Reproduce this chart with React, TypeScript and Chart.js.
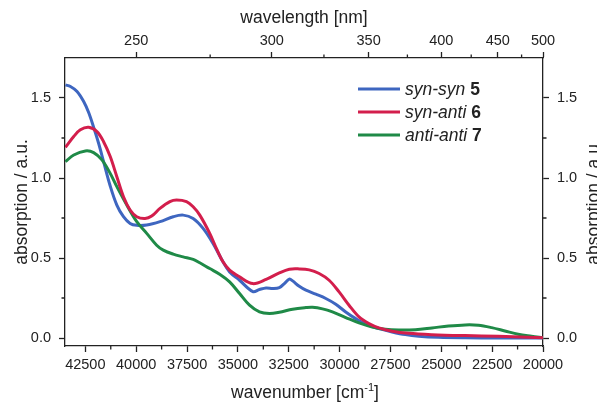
import React, { useEffect, useRef } from 'react';
import { Chart, registerables } from 'chart.js';

Chart.register(...registerables);

// ---- data (wavenumber in cm^-1, absorption in a.u.) ----
const synSynWn = [43478, 43234, 42908, 42582, 42337, 42092, 41848, 41603, 41277, 40951, 40625, 40299, 39972, 39483, 38831, 38179, 37690, 37200, 36711, 36222, 35733, 35407, 34917, 34265, 33939, 33613, 33287, 32961, 32716, 32472, 32309, 31983, 31656, 31167, 30678, 30188, 29699, 29210, 28721, 28069, 27416, 26764, 26112, 25133, 23829, 22198, 20000];
const synSynAbs = [1.582, 1.572, 1.541, 1.478, 1.409, 1.317, 1.217, 1.102, 0.950, 0.831, 0.758, 0.716, 0.704, 0.706, 0.727, 0.758, 0.768, 0.747, 0.685, 0.591, 0.476, 0.413, 0.361, 0.290, 0.303, 0.313, 0.310, 0.315, 0.340, 0.368, 0.357, 0.323, 0.299, 0.274, 0.247, 0.211, 0.163, 0.121, 0.086, 0.059, 0.038, 0.021, 0.011, 0.004, 0.001, 0.0, 0.0];

const synAntiWn = [43478, 43071, 42745, 42337, 41929, 41603, 41277, 40951, 40625, 40299, 39972, 39565, 39238, 38831, 38342, 38016, 37527, 37200, 36874, 36385, 36059, 35733, 35407, 34917, 34265, 33613, 32961, 32472, 31983, 31493, 31004, 30515, 30025, 29536, 29047, 28558, 28069, 27416, 26601, 25459, 23829, 22198, 20000];
const synAntiAbs = [1.192, 1.259, 1.301, 1.317, 1.290, 1.227, 1.134, 1.008, 0.883, 0.800, 0.758, 0.747, 0.762, 0.810, 0.852, 0.862, 0.852, 0.820, 0.768, 0.654, 0.560, 0.476, 0.424, 0.382, 0.340, 0.366, 0.407, 0.430, 0.432, 0.426, 0.403, 0.361, 0.288, 0.205, 0.132, 0.090, 0.063, 0.042, 0.029, 0.021, 0.015, 0.011, 0.002];

const antiAntiWn = [43478, 43071, 42500, 42092, 41685, 41277, 40951, 40462, 39972, 39483, 38994, 38668, 38179, 37690, 37200, 36874, 36385, 35896, 35407, 34917, 34428, 33939, 33450, 32961, 32309, 31656, 31330, 30841, 30351, 29699, 29047, 28395, 27742, 27090, 26275, 25459, 24644, 23829, 23177, 22524, 21872, 21220, 20567, 20000];
const antiAntiAbs = [1.102, 1.144, 1.169, 1.159, 1.113, 1.029, 0.946, 0.831, 0.727, 0.654, 0.580, 0.549, 0.524, 0.507, 0.491, 0.470, 0.434, 0.399, 0.351, 0.278, 0.205, 0.163, 0.153, 0.161, 0.180, 0.190, 0.192, 0.182, 0.163, 0.128, 0.094, 0.069, 0.054, 0.050, 0.052, 0.063, 0.075, 0.082, 0.080, 0.065, 0.044, 0.023, 0.011, 0.002];

const seriesItalic = ['syn-syn', 'syn-anti', 'anti-anti'];
const seriesBold = ['5', '6', '7'];
const seriesColors = ['#3e66c0', '#d31e4c', '#1f8a47'];

const bottomTicks = [42500, 40000, 37500, 35000, 32500, 30000, 27500, 25000, 22500, 20000];
const bottomMinor = [41250, 38750, 36250, 33750, 31250, 28750, 26250, 23750, 21250];
const topTicksNm = [250, 300, 350, 400, 450, 500];
const topMinorNm = [275, 325, 375, 425, 475];
const yTicks = [0, 0.5, 1.0, 1.5];
const yMinor = [0.25, 0.75, 1.25];

const titleTop = 'wavelength [nm]';
const titleBottomMain = 'wavenumber [cm';
const titleBottomSup = '-1';
const titleBottomEnd = ']';
const titleY = 'absorption / a.u.';

const FONT = '"Liberation Sans", Arial, Helvetica, sans-serif';
const INK = '#222222';

const decorPlugin = {
  id: 'decor',
  afterDraw(chart: any) {
    const ctx: CanvasRenderingContext2D = chart.ctx;
    const { left, right, top, bottom } = chart.chartArea;
    const sx = chart.scales.x;
    const sy = chart.scales.y;
    ctx.save();
    // minor ticks
    ctx.strokeStyle = INK;
    ctx.lineWidth = 1.3;
    ctx.beginPath();
    bottomMinor.forEach((v) => {
      const p = sx.getPixelForValue(v);
      ctx.moveTo(p, bottom);
      ctx.lineTo(p, bottom + 3.5);
    });
    topMinorNm.forEach((nm) => {
      const p = sx.getPixelForValue(1e7 / nm);
      ctx.moveTo(p, top);
      ctx.lineTo(p, top - 3.5);
    });
    yMinor.forEach((v) => {
      const p = sy.getPixelForValue(v);
      ctx.moveTo(left, p);
      ctx.lineTo(left - 3.5, p);
      ctx.moveTo(right, p);
      ctx.lineTo(right + 3.5, p);
    });
    ctx.stroke();

    // titles
    ctx.fillStyle = INK;
    ctx.textBaseline = 'alphabetic';
    const cx = (left + right) / 2;
    const cy = (top + bottom) / 2;
    ctx.font = `17.5px ${FONT}`;
    ctx.textAlign = 'center';
    ctx.fillText(titleTop, cx, 23);

    // bottom title with superscript
    ctx.textAlign = 'left';
    ctx.font = `17.5px ${FONT}`;
    const w1 = ctx.measureText(titleBottomMain).width;
    const w3 = ctx.measureText(titleBottomEnd).width;
    ctx.font = `11px ${FONT}`;
    const w2 = ctx.measureText(titleBottomSup).width;
    const x0 = cx + 1 - (w1 + w2 + w3) / 2;
    const by = 398;
    ctx.font = `17.5px ${FONT}`;
    ctx.fillText(titleBottomMain, x0, by);
    ctx.font = `11px ${FONT}`;
    ctx.fillText(titleBottomSup, x0 + w1, by - 7);
    ctx.font = `17.5px ${FONT}`;
    ctx.fillText(titleBottomEnd, x0 + w1 + w2, by);

    // vertical titles
    ctx.textAlign = 'center';
    [27, 599].forEach((bx) => {
      ctx.save();
      ctx.translate(bx, cy);
      ctx.rotate(-Math.PI / 2);
      ctx.fillText(titleY, 0, 0);
      ctx.restore();
    });

    // legend
    const lx0 = right - 185;
    const lx1 = right - 143;
    const ly0 = top + 31;
    const step = 23;
    seriesItalic.forEach((lab, i) => {
      const y = ly0 + i * step;
      ctx.strokeStyle = seriesColors[i];
      ctx.lineWidth = 3;
      ctx.beginPath();
      ctx.moveTo(lx0, y);
      ctx.lineTo(lx1, y);
      ctx.stroke();
      ctx.fillStyle = INK;
      ctx.textAlign = 'left';
      ctx.textBaseline = 'alphabetic';
      ctx.font = `italic 17.5px ${FONT}`;
      const tx = lx1 + 5;
      ctx.fillText(lab + ' ', tx, y + 6);
      const wl = ctx.measureText(lab + ' ').width;
      ctx.font = `bold 17.5px ${FONT}`;
      ctx.fillText(seriesBold[i], tx + wl, y + 6);
    });
    ctx.restore();
  },
};

function toPts(xs: number[], ys: number[]) {
  return xs.map((x, i) => ({ x, y: ys[i] }));
}

const axisCommon = {
  grid: { display: true, drawOnChartArea: false, drawTicks: true, tickLength: 6, tickWidth: 1.3, tickColor: INK },
  border: { display: true, color: INK, width: 1.3 },
  title: { display: false },
};

export default function App() {
  const ref = useRef<HTMLCanvasElement | null>(null);
  useEffect(() => {
    if (!ref.current) return;
    const tickFont = { family: FONT, size: 14.5 };
    const chart = new Chart(ref.current, {
      type: 'line',
      data: {
        datasets: [
          { label: 'syn-syn 5', data: toPts(synSynWn, synSynAbs), borderColor: seriesColors[0], order: 3 },
          { label: 'syn-anti 6', data: toPts(synAntiWn, synAntiAbs), borderColor: seriesColors[1], order: 1 },
          { label: 'anti-anti 7', data: toPts(antiAntiWn, antiAntiAbs), borderColor: seriesColors[2], order: 2 },
        ].map((d) => ({
          ...d,
          borderWidth: 3,
          pointRadius: 0,
          fill: false,
          tension: 0.35,
          xAxisID: 'x',
          yAxisID: 'y',
        })),
      },
      options: {
        responsive: false,
        animation: false,
        events: [],
        layout: { padding: 0 },
        plugins: { legend: { display: false }, tooltip: { enabled: false }, title: { display: false } },
        scales: {
          x: {
            ...axisCommon,
            type: 'linear',
            position: 'bottom',
            min: 20000,
            max: 43500,
            reverse: true,
            afterBuildTicks: (s: any) => { s.ticks = bottomTicks.map((v) => ({ value: v })); },
            afterFit: (s: any) => { s.height = 56; },
            ticks: { font: tickFont, color: INK, padding: 4.5, maxRotation: 0, autoSkip: false, callback: (v: any) => String(v) },
          },
          x2: {
            ...axisCommon,
            type: 'linear',
            position: 'top',
            min: 20000,
            max: 43500,
            reverse: true,
            afterBuildTicks: (s: any) => { s.ticks = topTicksNm.map((nm) => ({ value: 1e7 / nm })); },
            afterFit: (s: any) => { s.height = 58; },
            ticks: { font: tickFont, color: INK, padding: 2, maxRotation: 0, autoSkip: false, callback: (v: any) => String(Math.round(1e7 / Number(v))) },
          },
          y: {
            ...axisCommon,
            type: 'linear',
            position: 'left',
            min: -0.05,
            max: 1.75,
            afterBuildTicks: (s: any) => { s.ticks = yTicks.map((v) => ({ value: v })); },
            afterFit: (s: any) => { s.width = 65; },
            ticks: { font: tickFont, color: INK, padding: 8, callback: (v: any) => Number(v).toFixed(1) },
          },
          y2: {
            ...axisCommon,
            type: 'linear',
            position: 'right',
            min: -0.05,
            max: 1.75,
            afterBuildTicks: (s: any) => { s.ticks = yTicks.map((v) => ({ value: v })); },
            afterFit: (s: any) => { s.width = 54; },
            ticks: { font: tickFont, color: INK, padding: 8, callback: (v: any) => Number(v).toFixed(1) },
          },
        },
      } as any,
      plugins: [decorPlugin],
    });
    return () => chart.destroy();
  }, []);

  return (
    <div style={{ position: 'absolute', left: 0, top: 0, width: 597, height: 402, background: '#fff' }}>
      <canvas ref={ref} width={597} height={402} style={{ width: 597, height: 402, display: 'block' }} />
    </div>
  );
}
